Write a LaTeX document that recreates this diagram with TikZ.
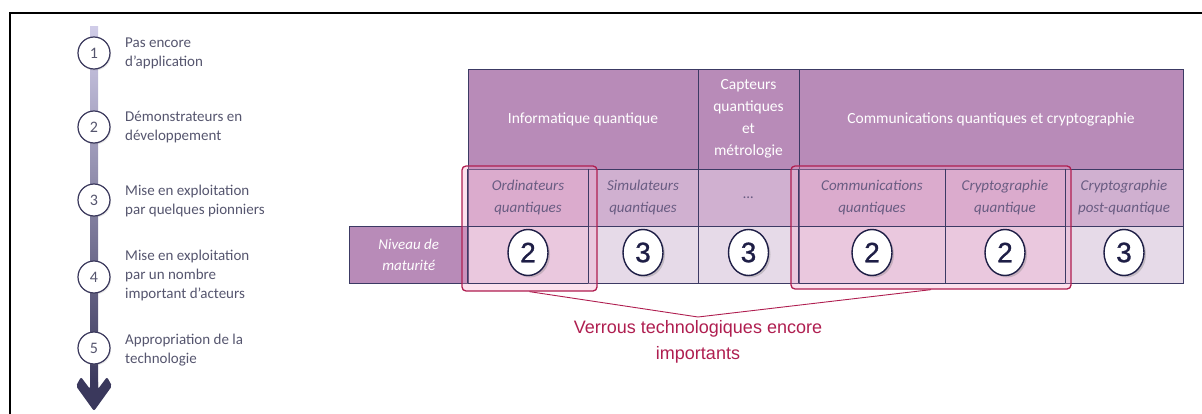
\documentclass[tikz,border=0pt]{standalone}
\usepackage{fontspec}
\setmainfont{Carlito}
\newfontfamily\arialf{Liberation Sans}
\newfontfamily\arialnum[FakeBold=1.0]{Liberation Sans}
\usetikzlibrary{shadows,shapes.geometric}
\definecolor{hdr}{RGB}{184,139,184}
\definecolor{subc}{RGB}{208,176,208}
\definecolor{rowc}{RGB}{230,218,232}
\definecolor{navy}{RGB}{60,58,100}
\definecolor{numc}{RGB}{30,30,70}
\definecolor{redc}{RGB}{175,30,80}
\definecolor{pinkov}{RGB}{245,160,200}
\definecolor{subtxt}{RGB}{105,92,130}
\definecolor{lefttxt}{RGB}{85,85,110}
\definecolor{bartop}{RGB}{208,204,232}
\definecolor{barbot}{RGB}{58,56,92}
\tikzset{
  cell/.style={draw=navy, line width=0.9pt, inner sep=0pt, align=center},
  hcell/.style={cell, fill=hdr, text=white, font=\fontsize{15.5}{22}\selectfont, minimum height=99.5pt},
  scell/.style={cell, fill=subc, minimum height=57pt},
  stxt/.style={inner sep=0pt, align=center, text=subtxt, font=\itshape\fontsize{15}{22}\selectfont},
  rcell/.style={cell, fill=rowc, minimum height=57pt},
  ncell/.style={cell, fill=hdr, text=white, font=\itshape\fontsize{15}{21}\selectfont, minimum height=57pt},
  redbox/.style={draw=redc, line width=1.3pt, rounded corners=4pt, fill=pinkov, fill opacity=0.3, inner sep=0pt},
  gridl/.style={navy, line width=0.9pt},
  matnum/.style={ellipse, draw=numc, line width=1.4pt, fill=white, minimum width=40pt, minimum height=46pt, inner sep=0pt,
    font=\arialnum\fontsize{28}{28}\selectfont, text=numc, yshift=2pt,
    drop shadow={opacity=0.35, shadow xshift=2pt, shadow yshift=-2pt}},
  stepnum/.style={circle, draw=barbot, line width=1.2pt, fill=white, minimum size=32pt, inner sep=0pt,
    font=\fontsize{16}{16}\selectfont, text=lefttxt,
    drop shadow={opacity=0.2, shadow xshift=1pt, shadow yshift=-1.5pt}},
  steptxt/.style={anchor=west, align=left, text=lefttxt, font=\fontsize{15}{19}\selectfont, inner sep=0pt},
}
\begin{document}
\begin{tikzpicture}[x=1pt,y=-1pt]
\useasboundingbox (0,0) rectangle (1202,414);
% frame
\draw[line width=2pt] (10,414) -- (10,13) -- (1202,13);
% timeline bar
\shade[top color=bartop, bottom color=barbot] (90,27) rectangle (98,386);
\fill[barbot, rounded corners=2pt] (94,411) -- (76,386) -- (81,377) -- (90,389) -- (90,380) -- (98,380) -- (98,389) -- (107,377) -- (112,386) -- cycle;
\node[stepnum] (c1) at (94,53) {1};
\node[stepnum] (c2) at (94,127) {2};
\node[stepnum] (c3) at (94,200) {3};
\node[stepnum] (c4) at (94,277) {4};
\node[stepnum] (c5) at (94,348) {5};
\node[steptxt] (t1) at (125,53) {Pas encore\\d’application};
\node[steptxt] (t2) at (125,127) {Démonstrateurs en\\développement};
\node[steptxt] (t3) at (125,201) {Mise en exploitation\\par quelques pionniers};
\node[steptxt] (t4) at (125,276) {Mise en exploitation\\par un nombre\\important d’acteurs};
\node[steptxt] (t5) at (125,350) {Appropriation de la\\technologie};
% header row
\node[hcell, minimum width=230pt] (h1) at (583,119.25) {Informatique quantique};
\node[hcell, minimum width=101pt] (h2) at (748.5,119.25) {Capteurs\\quantiques\\et\\métrologie};
\node[hcell, minimum width=384pt] (h3) at (991,119.25) {Communications quantiques et cryptographie};
% sub row
\node[scell, minimum width=120pt] (s1) at (528,197.5) {};
\node[scell, minimum width=110pt] (s2) at (643,197.5) {};
\node[scell, minimum width=101pt] (s3) at (748.5,197.5) {};
\node[scell, minimum width=146pt] (s4) at (872,197.5) {};
\node[scell, minimum width=120pt] (s5) at (1005,197.5) {};
\node[scell, minimum width=118pt] (s6) at (1124,197.5) {};
% maturity row
\node[ncell, minimum width=118.5pt] (n0) at (408.75,254.5) {Niveau de\\maturité};
\node[rcell, minimum width=120pt] (m1) at (528,254.5) {};
\node[rcell, minimum width=110pt] (m2) at (643,254.5) {};
\node[rcell, minimum width=101pt] (m3) at (748.5,254.5) {};
\node[rcell, minimum width=146pt] (m4) at (872,254.5) {};
\node[rcell, minimum width=120pt] (m5) at (1005,254.5) {};
\node[rcell, minimum width=118pt] (m6) at (1124,254.5) {};
% red boxes
\node[redbox, minimum width=135pt, minimum height=125pt] (r1) at (529.5,228.5) {};
\node[redbox, minimum width=280pt, minimum height=123pt] (r2) at (931,227.5) {};
% redraw grid lines through overlay
\draw[gridl] (s1.north east) -- (m1.south east);
\draw[gridl] (s4.north west) -- (m4.south west);
\draw[gridl] (s4.north east) -- (m4.south east);
\draw[gridl] (s5.north east) -- (m5.south east);
\draw[gridl] (s1.north west) -- (m1.south west);
\draw[gridl] (s1.south west) -- (s1.south east);
\draw[gridl] (s4.south west) -- (s5.south east);
\draw[gridl] (m1.south west) -- (m1.south east);
\draw[gridl] (m4.south west) -- (m5.south east);
% sub-row labels
\node[stxt] (l1) at (s1) {Ordinateurs\\quantiques};
\node[stxt] (l2) at (s2) {Simulateurs\\quantiques};
\node[stxt] (l3) at (s3) {\dots};
\node[stxt] (l4) at (s4) {Communications\\quantiques};
\node[stxt] (l5) at (s5) {Cryptographie\\quantique};
\node[stxt] (l6) at (s6) {Cryptographie\\post-quantique};
% numbers
\node[matnum] (k1) at (m1) {2};
\node[matnum] (k2) at (m2) {3};
\node[matnum] (k3) at (m3) {3};
\node[matnum] (k4) at (m4) {2};
\node[matnum] (k5) at (m5) {2};
\node[matnum] (k6) at (m6) {3};
% callout
\coordinate (v) at (698,317);
\draw[redc, line width=0.9pt] (r1.south) -- (v) -- (r2.south);
\node[text=redc, font=\arialf\fontsize{18}{26}\selectfont, align=center, anchor=north, inner sep=0pt] (lbl) at (698,320) {Verrous technologiques encore\\importants};
\end{tikzpicture}
\end{document}
